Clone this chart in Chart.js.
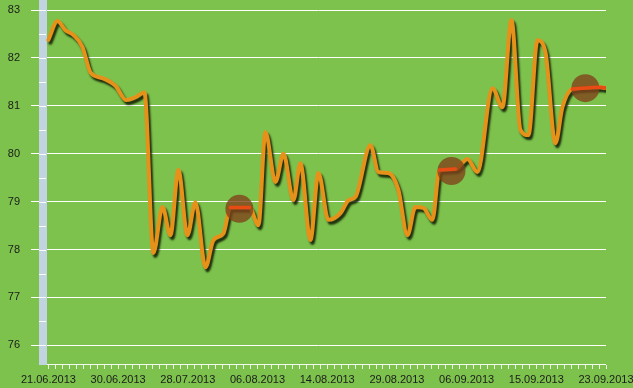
<!DOCTYPE html>
<html lang="en">
<head>
<meta charset="UTF-8">
<title>Rate chart</title>
<style>
  body { margin: 0; background: #7cc24c; }
  canvas { display: block; background: #7cc24c; }
</style>
</head>
<body>
<canvas id="rateChart" width="633" height="388"></canvas>
<script src="https://cdn.jsdelivr.net/npm/chart.js"></script>
<script>
// x positions are in tick units (one tick per trading day), labels every 10 ticks
const dateLabels = ['21.06.2013', '30.06.2013', '28.07.2013', '06.08.2013', '14.08.2013',
                    '29.08.2013', '06.09.2013', '15.09.2013', '23.09.2013'];
const yTicks = [76, 77, 78, 79, 80, 81, 82, 83];

const dayPos = [0, 1.29, 2.44, 3.59, 4.88, 6.03, 7.75, 9.61, 11.19, 12.48,
                13.77, 15.06, 16.36, 17.5, 18.65, 19.94, 21.09, 22.53, 23.67, 25.11,
                26.11, 28.84, 30.13, 31.13, 32.57, 33.72, 35.15, 36.15, 37.59, 38.74,
                40.17, 41.89, 43.04, 44.05, 46.2, 47.35, 48.78, 50.2, 51.51, 52.65,
                53.8, 55.09, 56.1, 58.39, 60.11, 61.55, 63.7, 65.14, 66.43, 67.72,
                68.87, 70.16, 71.31, 72.74, 73.74, 75.18, 79.2, 80];
const rate = [82.38, 82.77, 82.58, 82.48, 82.23, 81.70, 81.58, 81.42, 81.12, 81.18,
              81.28, 77.93, 78.89, 78.30, 79.66, 78.30, 78.99, 77.63, 78.20, 78.34,
              78.88, 78.88, 78.51, 80.45, 79.41, 80.00, 79.03, 79.80, 78.20, 79.60,
              78.62, 78.76, 79.03, 79.10, 80.18, 79.62, 79.60, 79.25, 78.30, 78.89,
              78.87, 78.62, 79.66, 79.68, 79.89, 79.62, 81.37, 80.97, 82.79, 80.50,
              80.39, 82.37, 82.12, 80.22, 80.97, 81.35, 81.39, 81.37];

// flat stretches marked with a circle
const markPos = [27.4, 57.83, 77.04];
const markRate = [78.85, 79.64, 81.37];
const highlightRanges = [[26, 29], [56, 58.5], [75, 80]];

const points = dayPos.map((x, i) => ({ x: x, y: rate[i] }));
const marks = markPos.map((x, i) => ({ x: x, y: markRate[i] }));

const redSegments = highlightRanges.map(r => ({
    data: points.filter(p => p.x >= r[0] && p.x <= r[1]),
    borderColor: '#e84c14',
    borderWidth: 3.5,
    borderCapStyle: 'round',
    pointRadius: 0,
    cubicInterpolationMode: 'monotone',
    order: 1
}));

// shadow under the main line
const lineShadow = {
    id: 'lineShadow',
    beforeDatasetDraw(chart, args) {
        if (args.index !== 0) return;
        const ctx = chart.ctx;
        ctx.save();
        ctx.shadowColor = 'rgba(20, 30, 5, 0.9)';
        ctx.shadowOffsetX = 2;
        ctx.shadowOffsetY = 3;
        ctx.shadowBlur = 2;
    },
    afterDatasetDraw(chart, args) {
        if (args.index !== 0) return;
        chart.ctx.restore();
    }
};

// blue band on the left and the white x axis line
const decor = {
    id: 'decor',
    beforeDatasetsDraw(chart) {
        const { ctx, chartArea } = chart;
        const y = chart.scales.y;
        const bandL = chartArea.left + 8;
        const bandR = chartArea.left + 16;
        ctx.save();
        ctx.fillStyle = '#c2d3e1';
        ctx.fillRect(bandL, chartArea.top, bandR - bandL, chartArea.bottom - chartArea.top);
        ctx.strokeStyle = '#ffffff';
        ctx.lineWidth = 1;
        for (let v = 76; v <= 83; v += 0.5) {
            const py = Math.round(y.getPixelForValue(v)) + 0.5;
            ctx.beginPath();
            ctx.moveTo(bandL, py);
            ctx.lineTo(bandR - 1, py);
            ctx.stroke();
        }
        ctx.strokeStyle = 'rgba(255,255,255,0.9)';
        ctx.beginPath();
        ctx.moveTo(bandR, chartArea.bottom - 0.5);
        ctx.lineTo(chartArea.right, chartArea.bottom - 0.5);
        ctx.stroke();
        ctx.restore();
    }
};

Chart.defaults.font.family = '"Liberation Sans", Arial, sans-serif';
Chart.defaults.font.size = 11;
Chart.defaults.color = '#1c1c1c';

const ctx = document.getElementById('rateChart').getContext('2d');
new Chart(ctx, {
    type: 'line',
    data: {
        datasets: [{
            data: points,
            borderColor: '#e6921a',
            borderWidth: 4,
            borderCapStyle: 'round',
            pointRadius: 0,
            cubicInterpolationMode: 'monotone',
            order: 3
        }, {
            data: marks,
            showLine: false,
            pointRadius: 14,
            pointBorderWidth: 0,
            pointBackgroundColor: 'rgba(128, 68, 28, 0.8)',
            order: 2
        }].concat(redSegments)
    },
    options: {
        responsive: false,
        animation: false,
        layout: { autoPadding: false, padding: { left: 0, top: 0, right: 27, bottom: 0 } },
        plugins: {
            legend: { display: false },
            tooltip: { enabled: false }
        },
        scales: {
            x: {
                type: 'linear',
                min: -2.5,
                max: 80,
                afterBuildTicks: s => {
                    const t = [];
                    for (let i = 0; i <= 80; i++) t.push({ value: i });
                    s.ticks = t;
                },
                afterFit: s => {
                    s.height = 23;
                    s.paddingLeft = 0;
                    s.paddingRight = 0;
                },
                border: { display: false },
                grid: {
                    drawOnChartArea: false,
                    drawTicks: true,
                    tickLength: 4,
                    color: 'rgba(255,255,255,0.85)'
                },
                ticks: {
                    autoSkip: false,
                    maxRotation: 0,
                    padding: 4,
                    callback: v => (v % 10 === 0 ? dateLabels[v / 10] : '')
                }
            },
            y: {
                min: 75.59,
                max: 83.21,
                afterBuildTicks: s => { s.ticks = yTicks.map(v => ({ value: v })); },
                afterFit: s => {
                    s.width = 31;
                    s.paddingTop = 0;
                    s.paddingBottom = 0;
                },
                border: { display: false },
                grid: { color: '#ffffff', lineWidth: 1, drawTicks: false },
                ticks: { padding: 11 }
            }
        }
    },
    plugins: [decor, lineShadow]
});
</script>
</body>
</html>
